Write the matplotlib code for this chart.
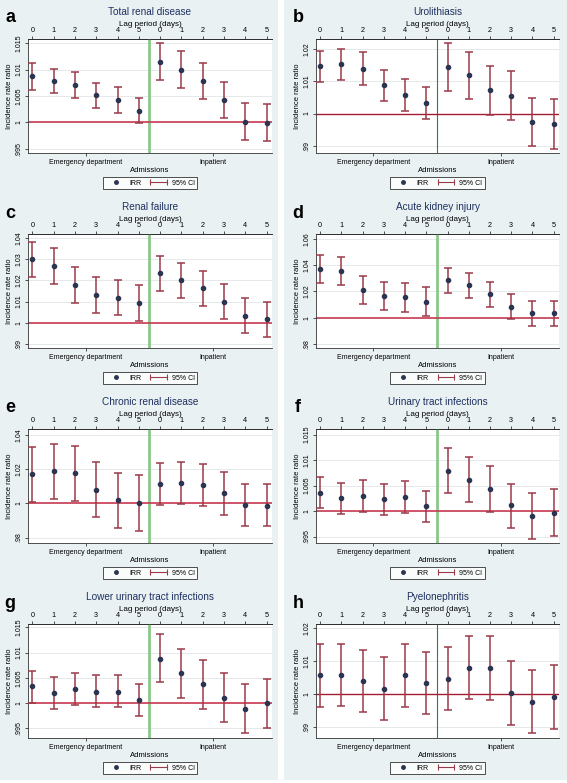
import matplotlib.pyplot as plt
from matplotlib.lines import Line2D
from matplotlib.patches import Rectangle
from matplotlib.legend_handler import HandlerLine2D

plt.rcParams['font.family'] = ['Liberation Sans', 'DejaVu Sans']

letters = ['a', 'b', 'c', 'd', 'e', 'f', 'g', 'h']
titles = ['Total renal disease', 'Urolithiasis', 'Renal failure', 'Acute kidney injury',
          'Chronic renal disease', 'Urinary tract infections',
          'Lower urinary tract infections', 'Pyelonephritis']
lag_labels = ['0', '1', '2', '3', '4', '5', '0', '1', '2', '3', '4', '5']
group_labels = ['Emergency department', 'Inpatient']

# IRR, lower and upper 95% CI: 6 ED lags then 6 inpatient lags
irr_a = [1.0087, 1.0079, 1.0071, 1.0051, 1.0043, 1.0022, 1.0115, 1.0100, 1.0079, 1.0043, 1.0001, 0.9999]
lo_a = [1.0062, 1.0055, 1.0046, 1.0027, 1.0018, 0.9998, 1.0081, 1.0066, 1.0044, 1.0008, 0.9966, 0.9964]
hi_a = [1.0112, 1.0102, 1.0096, 1.0075, 1.0067, 1.0047, 1.0150, 1.0136, 1.0112, 1.0077, 1.0036, 1.0034]

irr_b = [1.0147, 1.0153, 1.0140, 1.0089, 1.0058, 1.0033, 1.0144, 1.0120, 1.0072, 1.0055, 0.9974, 0.9967]
lo_b = [1.0098, 1.0104, 1.0090, 1.0040, 1.0008, 0.9983, 1.0070, 1.0046, 0.9996, 0.9980, 0.9899, 0.9891]
hi_b = [1.0196, 1.0202, 1.0190, 1.0137, 1.0107, 1.0082, 1.0218, 1.0193, 1.0147, 1.0131, 1.0049, 1.0044]

irr_c = [1.0300, 1.0270, 1.0177, 1.0131, 1.0118, 1.0091, 1.0233, 1.0200, 1.0162, 1.0099, 1.0033, 1.0016]
lo_c = [1.0218, 1.0185, 1.0091, 1.0047, 1.0035, 1.0006, 1.0151, 1.0117, 1.0080, 1.0019, 0.9951, 0.9934]
hi_c = [1.0383, 1.0353, 1.0262, 1.0216, 1.0203, 1.0177, 1.0314, 1.0281, 1.0243, 1.0181, 1.0115, 1.0098]

irr_d = [1.0371, 1.0356, 1.0213, 1.0165, 1.0155, 1.0122, 1.0284, 1.0246, 1.0180, 1.0084, 1.0036, 1.0036]
lo_d = [1.0262, 1.0249, 1.0104, 1.0056, 1.0046, 1.0013, 1.0190, 1.0152, 1.0084, 0.9990, 0.9939, 0.9937]
hi_d = [1.0477, 1.0462, 1.0320, 1.0272, 1.0264, 1.0231, 1.0378, 1.0338, 1.0269, 1.0180, 1.0130, 1.0130]

irr_e = [1.0170, 1.0187, 1.0177, 1.0080, 1.0019, 1.0000, 1.0113, 1.0119, 1.0107, 1.0058, 0.9988, 0.9986]
lo_e = [1.0008, 1.0025, 1.0016, 0.9920, 0.9858, 0.9840, 0.9990, 0.9994, 0.9982, 0.9932, 0.9866, 0.9866]
hi_e = [1.0329, 1.0347, 1.0337, 1.0242, 1.0179, 1.0164, 1.0238, 1.0242, 1.0228, 1.0181, 1.0113, 1.0111]

irr_f = [1.0035, 1.0025, 1.0029, 1.0024, 1.0028, 1.0009, 1.0079, 1.0061, 1.0044, 1.0011, 0.9991, 0.9997]
lo_f = [1.0006, 0.9994, 0.9999, 0.9992, 0.9996, 0.9979, 1.0035, 1.0017, 0.9999, 0.9967, 0.9946, 0.9952]
hi_f = [1.0066, 1.0055, 1.0061, 1.0054, 1.0058, 1.0039, 1.0124, 1.0106, 1.0088, 1.0054, 1.0035, 1.0043]

irr_g = [1.0033, 1.0021, 1.0028, 1.0023, 1.0023, 1.0006, 1.0088, 1.0059, 1.0038, 1.0010, 0.9988, 1.0000]
lo_g = [1.0001, 0.9989, 0.9997, 0.9993, 0.9992, 0.9975, 1.0041, 1.0011, 0.9989, 0.9963, 0.9940, 0.9951]
hi_g = [1.0063, 1.0051, 1.0059, 1.0055, 1.0055, 1.0038, 1.0136, 1.0107, 1.0086, 1.0059, 1.0037, 1.0048]

irr_h = [1.0056, 1.0057, 1.0040, 1.0015, 1.0056, 1.0032, 1.0046, 1.0079, 1.0078, 1.0002, 0.9976, 0.9990]
lo_h = [0.9960, 0.9962, 0.9945, 0.9920, 0.9960, 0.9938, 0.9951, 0.9983, 0.9982, 0.9904, 0.9879, 0.9892]
hi_h = [1.0150, 1.0151, 1.0133, 1.0111, 1.0150, 1.0127, 1.0142, 1.0175, 1.0175, 1.0098, 1.0072, 1.0086]

irrs = [irr_a, irr_b, irr_c, irr_d, irr_e, irr_f, irr_g, irr_h]
los = [lo_a, lo_b, lo_c, lo_d, lo_e, lo_f, lo_g, lo_h]
his = [hi_a, hi_b, hi_c, hi_d, hi_e, hi_f, hi_g, hi_h]

yticks_small = [0.995, 1.0, 1.005, 1.01, 1.015]
ylabels_small = ['.995', '1', '1.005', '1.01', '1.015']
yticks_all = [
    (yticks_small, ylabels_small),
    ([0.99, 1.0, 1.01, 1.02], ['.99', '1', '1.01', '1.02']),
    ([0.99, 1.0, 1.01, 1.02, 1.03, 1.04], ['.99', '1', '1.01', '1.02', '1.03', '1.04']),
    ([0.98, 1.0, 1.02, 1.04, 1.06], ['.98', '1', '1.02', '1.04', '1.06']),
    ([0.98, 1.0, 1.02, 1.04], ['.98', '1', '1.02', '1.04']),
    (yticks_small, ylabels_small),
    (yticks_small, ylabels_small),
    ([0.99, 1.0, 1.01, 1.02], ['.99', '1', '1.01', '1.02']),
]
ylims = [(0.9942, 1.0158), (0.9877, 1.0232), (0.988, 1.042), (0.9769, 1.0637),
         (0.9768, 1.0434), (0.99373, 1.0161), (0.99309, 1.01568), (0.98653, 1.0212)]

W, H = 567, 783
fig = plt.figure(figsize=(W / 100, H / 100), dpi=100, facecolor='white')

bg = '#eaf1f3'
ci_color = '#9b3a48'
pt_color = '#2b3450'
title_color = '#1e3160'

for i in range(8):
    col, row = i % 2, i // 2
    top0 = row * 195
    # panel background
    px0 = [0, 284][col]
    pw = [278, 283][col]
    fig.patches.append(Rectangle((px0 / W, 1 - (top0 + 195) / H), pw / W, 195 / H,
                                 transform=fig.transFigure, facecolor=bg,
                                 edgecolor='none', zorder=-10))
    left = [28, 316][col]
    right = [272, 559][col]
    ax = fig.add_axes([left / W, 1 - (top0 + 153) / H, (right - left) / W, 114 / H])
    ax.set_facecolor('white')
    x = list(range(12))
    ax.set_xlim(-0.2, 11.25)
    ax.set_ylim(*ylims[i])
    yt, yl = yticks_all[i]
    ax.set_yticks(yt)
    ax.set_yticklabels(yl, rotation=90, va='center', fontsize=5)
    ax.grid(axis='y', color='#e6e9ea', linewidth=0.7)
    ax.set_axisbelow(True)

    thick = i not in (1, 7)
    ax.axvline(5.5, color='#8cc68a' if thick else '#1f8a2a', linewidth=2.0 if thick else 0.8, zorder=2)
    ax.axhline(1.0, color='#c83a52' if thick else '#a41c34', linewidth=1.2 if thick else 1.0, zorder=2)

    yerr = [[irrs[i][k] - los[i][k] for k in x], [his[i][k] - irrs[i][k] for k in x]]
    ax.errorbar(x, irrs[i], yerr=yerr, fmt='none', ecolor=ci_color, elinewidth=1.1,
                capsize=3, capthick=1.1, zorder=3)
    ax.plot(x, irrs[i], 'o', color=pt_color, markersize=3, zorder=4)

    ax.set_xticks([2.5, 8.5])
    ax.set_xticklabels(group_labels, fontsize=5)
    ax.tick_params(axis='x', length=2.5, width=0.6, pad=2, color='#333333')
    ax.tick_params(axis='y', length=2.5, width=0.6, pad=1.5, color='#333333')
    ax.set_xlabel('Admissions', fontsize=5.5, labelpad=0.5)
    ax.set_ylabel('Incidence rate ratio', fontsize=5.5, labelpad=2)
    for s in ['left', 'bottom', 'top']:
        ax.spines[s].set_linewidth(0.6)
        ax.spines[s].set_color('#333333')
    ax.spines['right'].set_visible(False)

    top = ax.secondary_xaxis('top')
    top.set_xticks(x)
    top.set_xticklabels(lag_labels, fontsize=5.2)
    top.tick_params(length=2.5, width=0.6, pad=1, color='#333333')
    top.set_xlabel('Lag period (days)', fontsize=5.8, labelpad=1)
    top.spines['top'].set_linewidth(0.6)

    ax.set_title(titles[i], fontsize=7.2, color=title_color, pad=17)

    fig.text([10, 298][col] / W, 1 - (top0 + 18) / H, letters[i], fontsize=13,
             fontweight='bold', ha='center', va='center')

    h_irr = Line2D([0], [0], marker='o', color=pt_color, linestyle='none', markersize=2.5)
    h_ci = Line2D([0, 1], [0, 0], color=ci_color, linewidth=0.8, marker='|',
                  markersize=5, markeredgewidth=0.8)
    leg = ax.legend([h_irr, h_ci], ['IRR', '95% CI'], loc='center',
                    bbox_to_anchor=(0.5, -0.265), ncol=2, fontsize=5,
                    frameon=True, fancybox=False, handlelength=3.0,
                    columnspacing=1.0, handletextpad=0.4, borderpad=0.35,
                    handler_map={h_ci: HandlerLine2D(numpoints=2),
                                 h_irr: HandlerLine2D(numpoints=1)})
    leg.get_frame().set_edgecolor('black')
    leg.get_frame().set_linewidth(0.6)

fig.savefig('out.png', dpi=100, facecolor=fig.get_facecolor())
